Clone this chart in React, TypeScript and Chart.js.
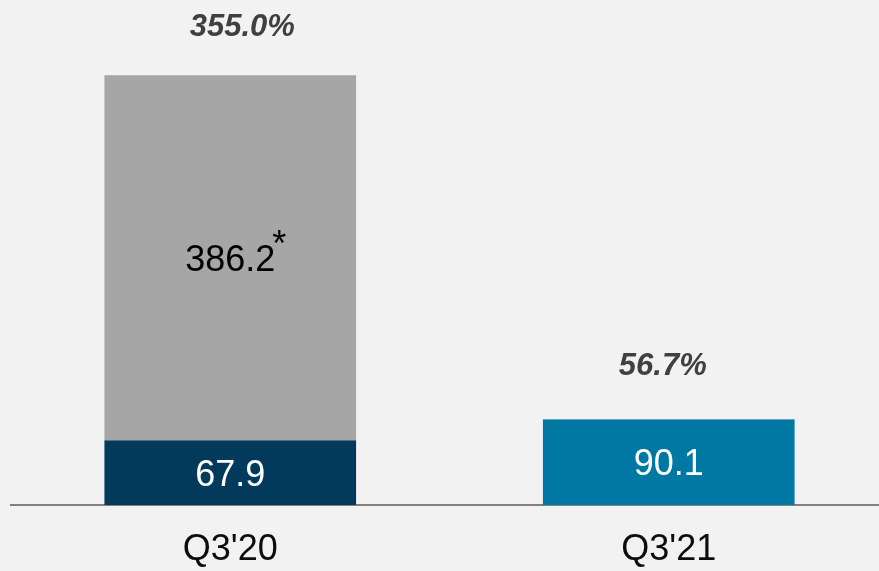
import React, { useEffect, useRef } from "react";
import { Chart, registerables } from "chart.js";

Chart.register(...registerables);

const categories = ["Q3'20", "Q3'21"];
const baseValues = [67.9, 90.1];
const extraValues = [386.2, 0];
const growthLabels = ["355.0%", "56.7%"];

const baseColors = ["#023a5b", "#0078a4"];
const extraColor = "#a6a6a6";
const FONT = "'Liberation Sans', Arial, Helvetica, sans-serif";
const pctDx = [12, -6];
const pctGap = [40, 45];

export default function App() {
  const ref = useRef<HTMLCanvasElement>(null);

  useEffect(() => {
    if (!ref.current) return;
    const labelPlugin = {
      id: "valueLabels",
      afterDatasetsDraw(chart: any) {
        const ctx = chart.ctx as CanvasRenderingContext2D;
        ctx.save();
        const m0 = chart.getDatasetMeta(0);
        const m1 = chart.getDatasetMeta(1);
        ctx.font = `36px ${FONT}`;
        ctx.textAlign = "center";
        ctx.textBaseline = "alphabetic";
        m0.data.forEach((el: any, i: number) => {
          const p = el.getProps(["x", "y", "base"], true);
          const cy = (p.y + p.base) / 2;
          ctx.fillStyle = "#ffffff";
          ctx.fillText(baseValues[i].toFixed(1), p.x, cy + 12.9);
        });
        m1.data.forEach((el: any, i: number) => {
          if (!extraValues[i]) return;
          const p = el.getProps(["x", "y", "base"], true);
          const cy = (p.y + p.base) / 2;
          const txt = extraValues[i].toFixed(1);
          ctx.fillStyle = "#000000";
          ctx.textAlign = "center";
          ctx.fillText(txt, p.x, cy + 12.9);
          const w = ctx.measureText(txt).width;
          ctx.textAlign = "left";
          ctx.fillText("*", p.x + w / 2 - 3, cy + 12.9 - 15);
        });
        ctx.font = `italic bold 31px ${FONT}`;
        ctx.fillStyle = "#404040";
        ctx.textAlign = "center";
        categories.forEach((_, i) => {
          const top = chart.scales.y.getPixelForValue(baseValues[i] + extraValues[i]);
          const x = chart.scales.x.getPixelForValue(i);
          ctx.fillText(growthLabels[i], x + pctDx[i], top - pctGap[i]);
        });
        ctx.restore();
      },
    };

    const chart = new Chart(ref.current, {
      type: "bar",
      data: {
        labels: categories,
        datasets: [
          {
            label: "base",
            data: baseValues,
            backgroundColor: baseColors,
            borderWidth: 0,
            barThickness: 251,
          },
          {
            label: "extra",
            data: extraValues,
            backgroundColor: extraColor,
            borderWidth: 0,
            barThickness: 251,
          },
        ],
      },
      options: {
        responsive: false,
        animation: false,
        layout: { padding: { top: 0, left: 11, right: 2, bottom: 0 } },
        plugins: {
          legend: { display: false },
          tooltip: { enabled: false },
        },
        scales: {
          x: {
            stacked: true,
            grid: { display: false, drawTicks: false },
            border: { display: true, color: "#808080", width: 2 },
            ticks: {
              color: "#0d0d0d",
              padding: 23,
              font: { family: FONT, size: 36, lineHeight: "44px" as any },
            },
          },
          y: {
            stacked: true,
            display: false,
            min: 0,
            max: 534,
          },
        },
      },
      plugins: [labelPlugin],
    });
    return () => chart.destroy();
  }, []);

  return (
    <div
      style={{
        position: "fixed",
        left: 0,
        top: 0,
        width: 879,
        height: 571,
        overflow: "hidden",
        background: "#f2f2f2",
      }}
    >
      <canvas ref={ref} width={890} height={595} style={{ display: "block" }} />
    </div>
  );
}
